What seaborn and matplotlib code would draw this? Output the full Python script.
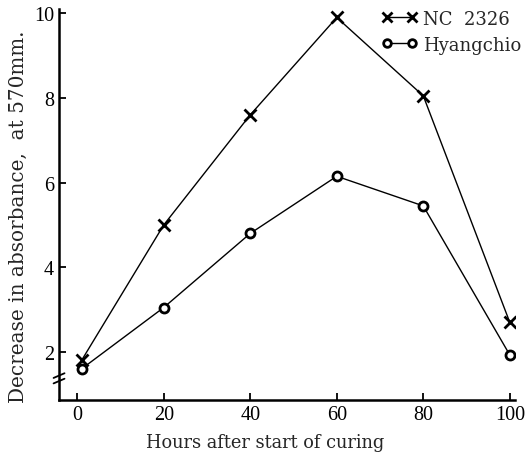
import matplotlib
matplotlib.use("Agg")
import matplotlib.pyplot as plt
from matplotlib.lines import Line2D
import seaborn as sns
import pandas as pd

# values
hours = [1, 20, 40, 60, 80, 100]
nc2326 = [1.8, 5.0, 7.6, 9.9, 8.05, 2.7]
hyangchio = [1.6, 3.05, 4.8, 6.15, 5.45, 1.93]
yticks = [2, 4, 6, 8, 10]
xticks = [0, 20, 40, 60, 80, 100]

df = pd.DataFrame({
    "hours": hours * 2,
    "value": nc2326 + hyangchio,
    "variety": ["NC 2326"] * 6 + ["Hyangchio"] * 6,
})

sns.set_theme(style="ticks")
plt.rcParams["font.family"] = ["Liberation Serif", "DejaVu Serif"]
label_font = ["DejaVu Serif"]

fig = plt.figure(figsize=(5.32, 4.56), dpi=100)
ax = fig.add_axes([0.111, 0.121, 0.857, 0.857])

sns.lineplot(data=df[df.variety == "NC 2326"], x="hours", y="value", ax=ax,
             color="black", linewidth=1.0, marker="x", markersize=8,
             markeredgewidth=2.0, markeredgecolor="black", legend=False)
sns.lineplot(data=df[df.variety == "Hyangchio"], x="hours", y="value", ax=ax,
             color="black", linewidth=1.0, marker="o", markersize=6.5,
             markeredgewidth=2.0, markeredgecolor="black",
             markerfacecolor="white", legend=False)

ax.set_xlim(-4.2, 101.2)
ax.set_ylim(0.87, 10.1)
ax.set_xticks(xticks)
ax.set_yticks(yticks)
ax.tick_params(direction="in", length=5, width=1.3, labelsize=14.5, colors="black")
for s in ["left", "bottom"]:
    ax.spines[s].set_linewidth(1.8)
    ax.spines[s].set_color("black")
ax.spines["top"].set_visible(False)
ax.spines["right"].set_visible(False)

ax.set_xlabel("Hours after start of curing", fontsize=12.8, family=label_font,
              fontweight="light")
ax.set_ylabel("Decrease in absorbance,  at 570mm.", fontsize=14.4, family=label_font,
              fontweight="light")
ax.xaxis.set_label_coords(0.453, -0.085)
ax.yaxis.set_label_coords(-0.068, 0.47)

# axis break marks
for yy in [0.048, 0.062]:
    ax.plot([-0.012, 0.012], [yy - 0.006, yy + 0.006], transform=ax.transAxes,
            color="black", lw=1.3, clip_on=False)

handles = [
    Line2D([], [], color="black", lw=1.0, marker="x", markersize=7, markeredgewidth=2.0),
    Line2D([], [], color="black", lw=1.0, marker="o", markersize=5.5, markeredgewidth=2.0,
           markerfacecolor="white"),
]
ax.legend(handles, ["NC  2326", "Hyangchio"], loc="upper right", bbox_to_anchor=(1.05, 1.04),
          frameon=False, numpoints=2, handlelength=2.0, handletextpad=0.3,
          labelspacing=0.45, prop={"family": label_font, "size": 13})

fig.savefig("out.png", dpi=100)
